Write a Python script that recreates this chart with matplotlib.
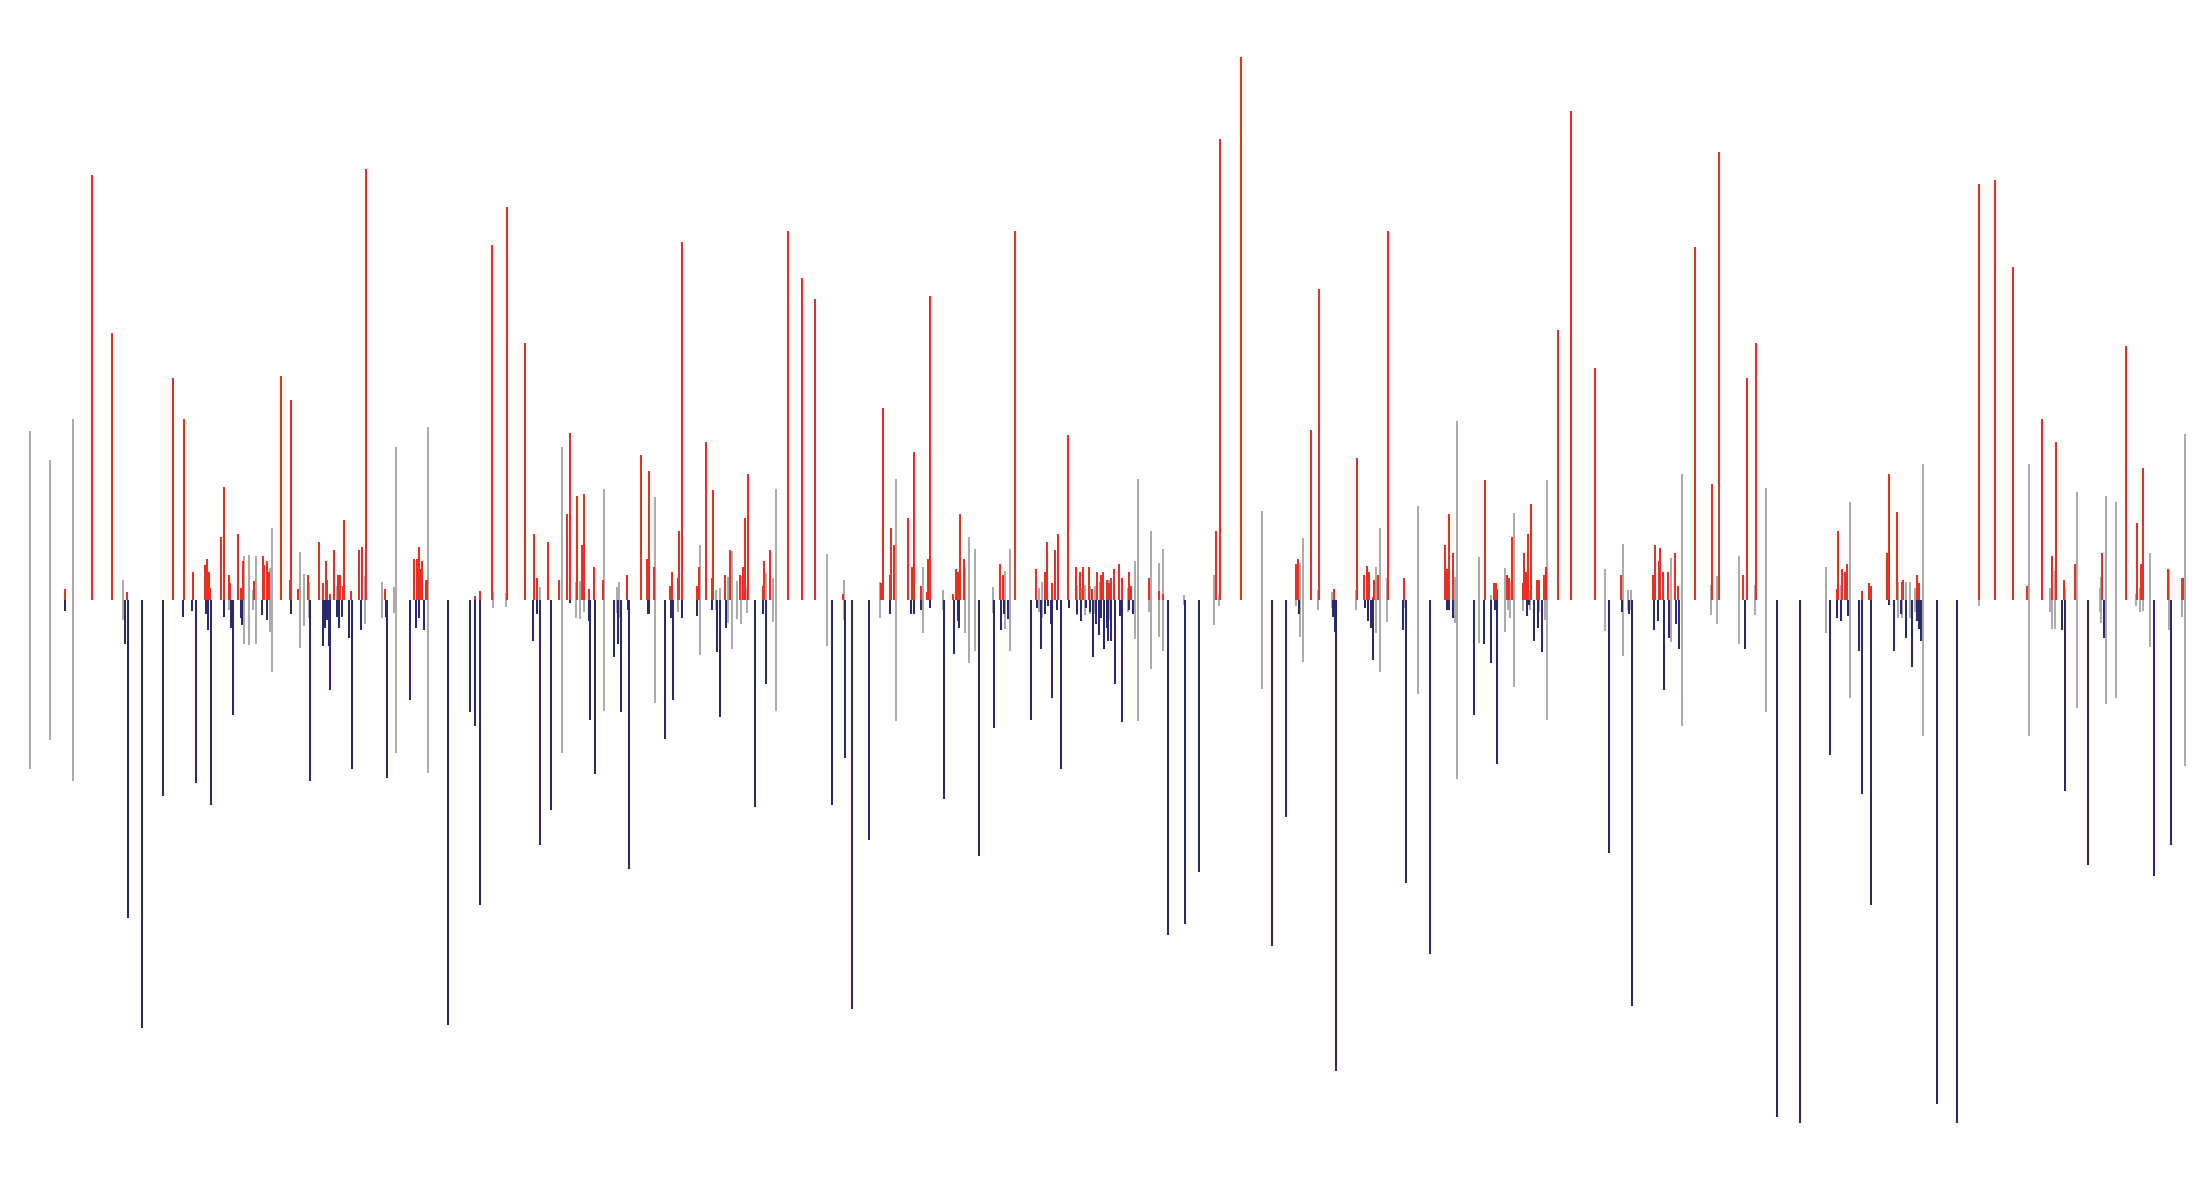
#!/usr/bin/env python3
"""
Spike chart: red spikes up, navy spikes down, grey spikes symmetric around
the baseline. No axes, ticks or text.
"""

import matplotlib
matplotlib.use("Agg")
import matplotlib.pyplot as plt

# red: upward spikes (position, height)
red_x = [65, 92, 112, 127, 173, 184, 193, 205, 207, 209, 210, 221, 224, 229, 230, 238, 241, 243, 254, 263, 264, 267, 269,
         281, 290, 291, 298, 308, 319, 323, 326, 327, 330, 334, 338, 340, 343, 344, 351, 359, 362, 366, 385, 414, 417,
         419, 420, 422, 426, 427, 475, 480, 492, 507, 525, 534, 537, 548,
         559, 567, 570, 577, 582, 584, 589, 594, 603, 627, 641, 647, 649, 654, 670, 672, 678, 679, 682, 697, 699, 706,
         712, 713, 725, 730, 740, 743, 745, 748, 763, 764, 770, 788, 802, 815,
         843, 881, 883, 890, 891, 894, 908, 912, 914, 921, 927, 928, 930, 953, 956, 958, 960, 964, 1000, 1003, 1015,
         1036, 1045, 1047, 1052, 1055, 1058, 1068, 1068, 1076, 1080, 1083, 1089, 1092, 1097,
         1101, 1103, 1107, 1109, 1111, 1114, 1119, 1122, 1129, 1131, 1149, 1159, 1163, 1216, 1220, 1241, 1296, 1298,
         1311, 1319, 1334, 1357, 1364, 1367, 1369, 1373, 1374,
         1378, 1388, 1404, 1445, 1447, 1449, 1453, 1485, 1494, 1496, 1497, 1507, 1509, 1512, 1523, 1524, 1526, 1528,
         1531, 1537, 1539, 1544, 1546, 1558, 1571, 1595, 1621,
         1653, 1655, 1659, 1660, 1663, 1668, 1675, 1678, 1695, 1712, 1719, 1743, 1747, 1756, 1837, 1838, 1842, 1845,
         1847, 1862, 1869, 1871, 1887, 1889, 1897, 1902, 1903, 1917, 1919,
         1979, 1995, 2013, 2027, 2042, 2052, 2056, 2064, 2075, 2102, 2126, 2137, 2141, 2143, 2168, 2182, 2183]
red_val = [11, 425, 267, 8, 222, 181, 28, 35, 41, 28, 12, 63, 113, 25, 17, 66, 12, 39, 19, 44, 35, 39, 28,
           224, 20, 200, 11, 25, 58, 17, 39, 20, 6, 50, 25, 25, 14, 80, 9, 50, 53, 431, 11, 41, 41,
           53, 31, 39, 20, 20, 4, 9, 355, 393, 257, 66, 22, 58,
           20, 86, 167, 104, 55, 106, 11, 33, 20, 25, 145, 41, 129, 33, 14, 28, 22, 69, 358, 14, 33, 158,
           22, 110, 25, 50, 25, 33, 82, 126, 14, 39, 50, 369, 322, 301,
           6, 17, 192, 25, 72, 55, 82, 33, 148, 14, 8, 41, 304, 6, 31, 28, 86, 41, 36, 25, 369,
           31, 28, 58, 17, 50, 66, 17, 165, 33, 28, 33, 33, 11, 28,
           25, 28, 20, 17, 22, 31, 36, 22, 28, 14, 22, 9, 6, 69, 461, 543, 36, 41,
           170, 311, 11, 142, 25, 34, 28, 3, 20,
           25, 369, 22, 55, 31, 86, 47, 120, 17, 17, 11, 25, 22, 63, 17, 47, 28, 66,
           96, 20, 20, 25, 33, 270, 489, 232, 25,
           25, 55, 39, 52, 28, 28, 47, 14, 353, 116, 448, 25, 222, 257, 11, 69, 31, 28,
           36, 9, 17, 14, 47, 126, 88, 18, 20, 25, 17,
           416, 420, 333, 14, 181, 44, 158, 20, 36, 47, 254, 77, 36, 132, 31, 22, 22]

# navy: downward spikes (position, depth)
navy_x = [65, 125, 128, 142, 163, 183, 192, 196, 206, 208, 211, 224, 231, 233, 241, 242, 262, 267,
          291, 310, 323, 325, 327, 329, 330, 337, 339, 342, 349, 352, 361, 386, 387, 410, 416, 419, 424, 448, 470,
          475, 480, 533, 537, 540,
          551, 570, 589, 590, 595, 614, 618, 621, 628, 629, 648, 649, 665, 671, 673, 682, 697, 712, 717, 720, 726,
          755, 763, 766,
          832, 845, 852, 869, 890, 911, 914, 921, 930, 944, 954, 958, 959, 979, 994, 1001, 1004, 1008, 1031, 1037,
          1041, 1045, 1048, 1051, 1052, 1057, 1061, 1069, 1077, 1081, 1086, 1090, 1093, 1096, 1099,
          1101, 1104, 1107, 1108, 1111, 1115, 1120, 1122, 1129, 1133, 1168, 1185, 1199, 1272, 1286, 1299, 1333,
          1335, 1336, 1365, 1368, 1371, 1373,
          1403, 1406, 1430, 1447, 1449, 1453, 1474, 1484, 1491, 1495, 1497, 1527, 1529, 1534, 1538, 1542, 1609,
          1622, 1629, 1632,
          1654, 1658, 1664, 1669, 1676, 1679, 1745, 1777, 1800, 1830, 1837, 1841, 1848, 1859, 1862, 1871, 1889,
          1894, 1901, 1906, 1912, 1917, 1919, 1921,
          1937, 1957, 2062, 2065, 2088, 2104, 2154, 2171]
navy_val = [11, 44, 318, 428, 196, 17, 11, 183, 14, 30, 205, 17, 28, 115, 18, 25, 15, 20,
            14, 181, 46, 28, 20, 46, 90, 17, 28, 17, 38, 169, 30, 17, 178, 100, 28, 18, 30, 425, 112,
            126, 305, 41, 14, 245,
            210, 3, 21, 120, 174, 57, 44, 112, 10, 269, 14, 14, 139, 18, 100, 18, 16, 10, 52, 117, 28,
            207, 14, 84,
            205, 158, 409, 240, 14, 14, 14, 10, 8, 199, 54, 21, 28, 256, 128, 30, 14, 19, 120, 8,
            49, 14, 6, 24, 98, 10, 169, 8, 14, 21, 8, 12, 57, 24, 35,
            18, 49, 28, 41, 41, 84, 16, 122, 10, 14, 335, 324, 272, 346, 217, 14, 17,
            32, 471, 8, 21, 28, 60,
            30, 283, 354, 10, 10, 18, 115, 44, 63, 10, 164, 16, 5, 41, 28, 52, 253,
            12, 14, 406,
            30, 21, 90, 38, 24, 49, 49, 517, 523, 155, 18, 21, 16, 51, 194, 305, 5,
            51, 14, 38, 67, 21, 29, 41,
            504, 523, 30, 191, 265, 38, 276, 245]

# grey: symmetric spikes (position, half-height)
grey_x = [30, 50, 73, 123, 229, 244, 249, 253, 256, 270, 272,
          300, 304, 309, 337, 365, 382, 394, 396, 428, 493, 506, 540,
          562, 576, 580, 584, 604, 617, 619, 655, 678, 700, 716, 720, 728, 732, 737, 741, 747, 766, 773, 776,
          827, 844, 880, 896, 923, 943, 965, 969, 975, 993, 1005, 1010, 1039, 1042, 1077, 1081, 1085, 1090, 1095, 1100,
          1109, 1128, 1135, 1138, 1149, 1151, 1159, 1163, 1184, 1214, 1219, 1262, 1296, 1300, 1303, 1318, 1332, 1356,
          1376, 1380, 1387, 1404, 1418, 1455, 1457, 1479, 1491, 1505, 1508, 1510, 1514, 1523, 1530, 1539, 1545, 1547,
          1605, 1623, 1628, 1631,
          1671, 1682, 1711, 1717, 1739, 1755, 1766, 1826, 1841, 1850, 1898, 1902, 1906, 1910, 1915, 1923,
          1979, 2029, 2050, 2052, 2055, 2065, 2077, 2100, 2101, 2106, 2116, 2136, 2140, 2143, 2150, 2169, 2182, 2185]
grey_val = [169, 140, 181, 20, 10, 44, 45, 10, 44, 32, 72,
            48, 26, 18, 14, 24, 18, 13, 153, 173, 8, 7, 13,
            153, 18, 19, 12, 111, 13, 18, 103, 12, 55, 10, 12, 23, 49, 19, 24, 13, 27, 22, 111,
            46, 20, 18, 121, 33, 10, 33, 63, 51, 13, 29, 51, 12, 18, 15, 12, 15, 14, 14, 18,
            20, 12, 39, 121, 12, 69, 37, 51, 5, 25, 6, 89, 6, 37, 62, 10, 8, 10,
            33, 72, 22, 8, 94, 23, 179, 43, 5, 32, 10, 18, 87, 11, 10, 12, 20, 120,
            31, 56, 10, 10,
            42, 126, 15, 24, 44, 15, 112, 33, 15, 98, 18, 18, 18, 18, 12, 136,
            6, 136, 12, 29, 29, 12, 108, 12, 23, 104, 98, 6, 12, 11, 47, 30, 17, 166]

RED = "#ea3020"
NAVY = "#2b2a70"
GREY = "#acacac"


def main() -> int:
    fig = plt.figure(figsize=(22, 12), dpi=100)
    ax = fig.add_axes([0, 0, 1, 1])

    lw = 1.45
    ax.vlines(grey_x, [-v for v in grey_val], grey_val, colors=GREY, linewidth=lw)
    ax.vlines(red_x, 0, red_val, colors=RED, linewidth=lw)
    ax.vlines(navy_x, [-v for v in navy_val], 0, colors=NAVY, linewidth=lw)

    ax.set_xlim(0, 2200)
    ax.set_ylim(-600, 600)
    ax.axis("off")

    fig.savefig("out.png", dpi=100, facecolor="white")
    plt.close(fig)
    return 0


if __name__ == "__main__":
    raise SystemExit(main())
